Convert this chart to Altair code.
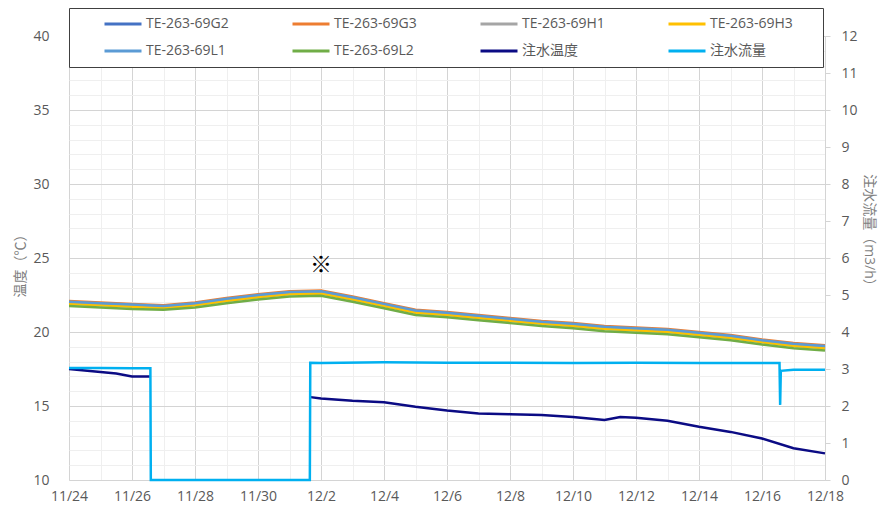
import altair as alt
import pandas as pd

# ---------------- data ----------------
days = ["2020-11-24", "2020-11-25", "2020-11-26", "2020-11-27", "2020-11-28", "2020-11-29",
        "2020-11-30", "2020-12-01", "2020-12-02", "2020-12-03", "2020-12-04", "2020-12-05",
        "2020-12-06", "2020-12-07", "2020-12-08", "2020-12-09", "2020-12-10", "2020-12-11",
        "2020-12-12", "2020-12-13", "2020-12-14", "2020-12-15", "2020-12-16", "2020-12-17",
        "2020-12-18"]

te_g2 = [22.00, 21.90, 21.80, 21.70, 21.90, 22.20, 22.45, 22.65, 22.70, 22.30, 21.85, 21.40, 21.25,
         21.05, 20.85, 20.65, 20.50, 20.30, 20.20, 20.10, 19.90, 19.70, 19.40, 19.15, 19.00]
te_g3 = [22.10, 22.00, 21.90, 21.80, 22.00, 22.30, 22.55, 22.75, 22.80, 22.40, 21.95, 21.50, 21.35,
         21.15, 20.95, 20.75, 20.60, 20.40, 20.30, 20.20, 20.00, 19.80, 19.50, 19.25, 19.10]
te_h1 = [21.95, 21.85, 21.75, 21.65, 21.85, 22.15, 22.40, 22.60, 22.65, 22.25, 21.80, 21.35, 21.20,
         21.00, 20.80, 20.60, 20.45, 20.25, 20.15, 20.05, 19.85, 19.65, 19.35, 19.10, 18.95]
te_h3 = [21.90, 21.80, 21.70, 21.60, 21.80, 22.10, 22.35, 22.55, 22.60, 22.20, 21.75, 21.30, 21.15,
         20.95, 20.75, 20.55, 20.40, 20.20, 20.10, 20.00, 19.80, 19.60, 19.30, 19.05, 18.90]
te_l1 = [22.05, 21.95, 21.85, 21.75, 21.95, 22.25, 22.50, 22.70, 22.75, 22.35, 21.90, 21.45, 21.30,
         21.10, 20.90, 20.70, 20.55, 20.35, 20.25, 20.15, 19.95, 19.75, 19.45, 19.20, 19.05]
te_l2 = [21.75, 21.65, 21.55, 21.50, 21.65, 21.95, 22.20, 22.40, 22.45, 22.05, 21.60, 21.15, 21.00,
         20.80, 20.60, 20.40, 20.25, 20.05, 19.95, 19.85, 19.65, 19.45, 19.15, 18.90, 18.75]

inj_temp_t = ["2020-11-24T00:00", "2020-11-24T12:00", "2020-11-25T00:00", "2020-11-25T12:00",
              "2020-11-26T00:00", "2020-11-26T14:00",
              "2020-12-01T16:00", "2020-12-02T00:00", "2020-12-03T00:00", "2020-12-04T00:00",
              "2020-12-05T00:00", "2020-12-06T00:00", "2020-12-07T00:00", "2020-12-08T00:00",
              "2020-12-09T00:00", "2020-12-10T00:00", "2020-12-11T00:00", "2020-12-11T12:00",
              "2020-12-12T00:00", "2020-12-13T00:00", "2020-12-14T00:00", "2020-12-15T00:00",
              "2020-12-16T00:00", "2020-12-17T00:00", "2020-12-18T00:00"]
inj_temp_v = [17.5, 17.4, 17.3, 17.2, 17.0, 17.0,
              15.6, 15.5, 15.35, 15.25, 14.95, 14.7, 14.5, 14.45, 14.4, 14.25, 14.05, 14.25,
              14.2, 14.0, 13.6, 13.25, 12.8, 12.15, 11.8]
inj_temp_seg = [0, 0, 0, 0, 0, 0,
                1, 1, 1, 1, 1, 1, 1, 1, 1, 1, 1, 1, 1, 1, 1, 1, 1, 1, 1]

flow_t = ["2020-11-24T00:00", "2020-11-25T00:00", "2020-11-26T00:00", "2020-11-26T14:00",
          "2020-11-26T14:20", "2020-11-29T00:00", "2020-12-01T15:30", "2020-12-01T15:50",
          "2020-12-02T00:00", "2020-12-04T00:00", "2020-12-06T00:00", "2020-12-08T00:00",
          "2020-12-10T00:00", "2020-12-12T00:00", "2020-12-14T00:00", "2020-12-16T00:00",
          "2020-12-16T13:20", "2020-12-16T13:50", "2020-12-16T14:20", "2020-12-17T00:00",
          "2020-12-18T00:00"]
flow_v = [3.03, 3.03, 3.02, 3.02, 0.0, 0.0, 0.0, 3.17,
          3.16, 3.18, 3.17, 3.17, 3.16, 3.17, 3.16, 3.16,
          3.16, 2.03, 2.95, 2.98, 2.98]

names = ["TE-263-69G2", "TE-263-69G3", "TE-263-69H1", "TE-263-69H3",
         "TE-263-69L1", "TE-263-69L2", "注水温度", "注水流量"]
colors = ["#4472C4", "#ED7D31", "#A5A5A5", "#FFC000",
          "#5B9BD5", "#70AD47", "#0B0B84", "#00B0F0"]

x_ticks = days
note_t = "2020-12-02"
note_v = 24.5
note_text = "※"


def ms(s):
    return int(pd.Timestamp(s, tz="UTC").value // 10**6)


# ---------------- tables ----------------
rows = []
for name, vals in zip(names[:6], [te_g2, te_g3, te_h1, te_h3, te_l1, te_l2]):
    for d, v in zip(days, vals):
        rows.append({"t": ms(d), "v": v, "s": name, "seg": 0})
for d, v, g in zip(inj_temp_t, inj_temp_v, inj_temp_seg):
    rows.append({"t": ms(d), "v": v, "s": names[6], "seg": g})
left_df = pd.DataFrame(rows)

flow_df = pd.DataFrame({"t": [ms(d) for d in flow_t], "v": flow_v, "s": names[7], "seg": 0})
note_df = pd.DataFrame({"t": [ms(note_t)], "v": [note_v], "txt": [note_text]})

tick_ms = [ms(d) for d in x_ticks]

FONT = "Open Sans, Noto Sans CJK JP"
LABEL = "#595959"
MAJOR = "#d4d4d4"
MINOR = "#efefef"

x_enc = alt.X(
    "t:T",
    scale=alt.Scale(type="utc", domain=[tick_ms[0], tick_ms[-1]], nice=False),
    axis=alt.Axis(
        values=tick_ms,
        labelExpr="utcdate(datum.value) % 2 == 0 ? utcFormat(datum.value, '%-m/%-d') : ''",
        gridColor={"condition": {"test": "utcdate(datum.value) % 2 == 0", "value": MAJOR}, "value": MINOR},
        ticks=False,
        domainColor=MAJOR,
        labelPadding=9,
        labelFlush=False,
        labelBound=False,
        title=None,
        labelOverlap=False,
    ),
)

y_left = alt.Y(
    "v:Q",
    scale=alt.Scale(domain=[10, 40], nice=False, zero=False),
    axis=alt.Axis(
        values=list(range(10, 41)),
        labelExpr="datum.value % 5 == 0 ? datum.label : ''",
        gridColor={"condition": {"test": "datum.value % 5 == 0", "value": MAJOR}, "value": MINOR},
        ticks=False,
        domain=False,
        labelPadding=20,
        labelOverlap=False,
        title="温度（℃）",
        titleAngle=270,
        titleX=-49,
        titleY=226,
        titleAlign="center",
        titleBaseline="middle",
    ),
)

color_enc = alt.Color(
    "s:N",
    scale=alt.Scale(domain=names, range=colors),
    legend=alt.Legend(
        title=" ",
        titleOrient="right",
        titlePadding=22,
        titleFontSize=10,
        orient="none",
        legendX=0,
        legendY=-28,
        direction="horizontal",
        columns=4,
        symbolType="stroke",
        symbolSize=37 * 37,
        symbolStrokeWidth=3,
        symbolOffset=26,
        clipHeight=16,
        labelFontSize=14,
        labelColor=LABEL,
        labelFont=FONT,
        labelOffset=3,
        labelLimit=200,
        columnPadding=36,
        rowPadding=11,
        padding=8,
        strokeColor="#404040",
        fillColor="white",
    ),
)

te_lines = alt.Chart(left_df).mark_line(strokeWidth=2.5).encode(
    x=x_enc, y=y_left, color=color_enc, detail="seg:N"
)

note = alt.Chart(note_df).mark_text(fontSize=22, color="black", font=FONT).encode(
    x=x_enc, y=y_left, text="txt:N"
)

left = alt.layer(te_lines, note)

flow = alt.Chart(flow_df).mark_line(strokeWidth=2.5).encode(
    x=x_enc,
    y=alt.Y(
        "v:Q",
        scale=alt.Scale(domain=[0, 12], nice=False),
        axis=alt.Axis(
            orient="right",
            values=list(range(0, 13)),
            grid=False,
            tickSize=5,
            tickColor=MAJOR,
            domainColor=MAJOR,
            labelPadding=11,
            title="注水流量（m3/h）",
            titleAngle=90,
            titleX=43,
            titleY=197,
            titleAlign="center",
            titleBaseline="middle",
        ),
    ),
    color=color_enc,
)

chart = (
    alt.layer(left, flow)
    .resolve_scale(y="independent")
    .properties(
        width=756,
        height=444,
        autosize=alt.AutoSizeParams(type="none"),
        padding={"left": 61, "top": 28, "right": 55, "bottom": 30},
    )
    .configure_view(stroke=None)
    .configure_axis(
        labelFont=FONT,
        labelFontSize=14,
        labelColor=LABEL,
        titleFont=FONT,
        titleFontSize=14,
        titleColor="#7f7f7f",
        titleFontWeight="normal",
    )
)

chart.save("out.html", embed_options={"renderer": "svg", "actions": False})
